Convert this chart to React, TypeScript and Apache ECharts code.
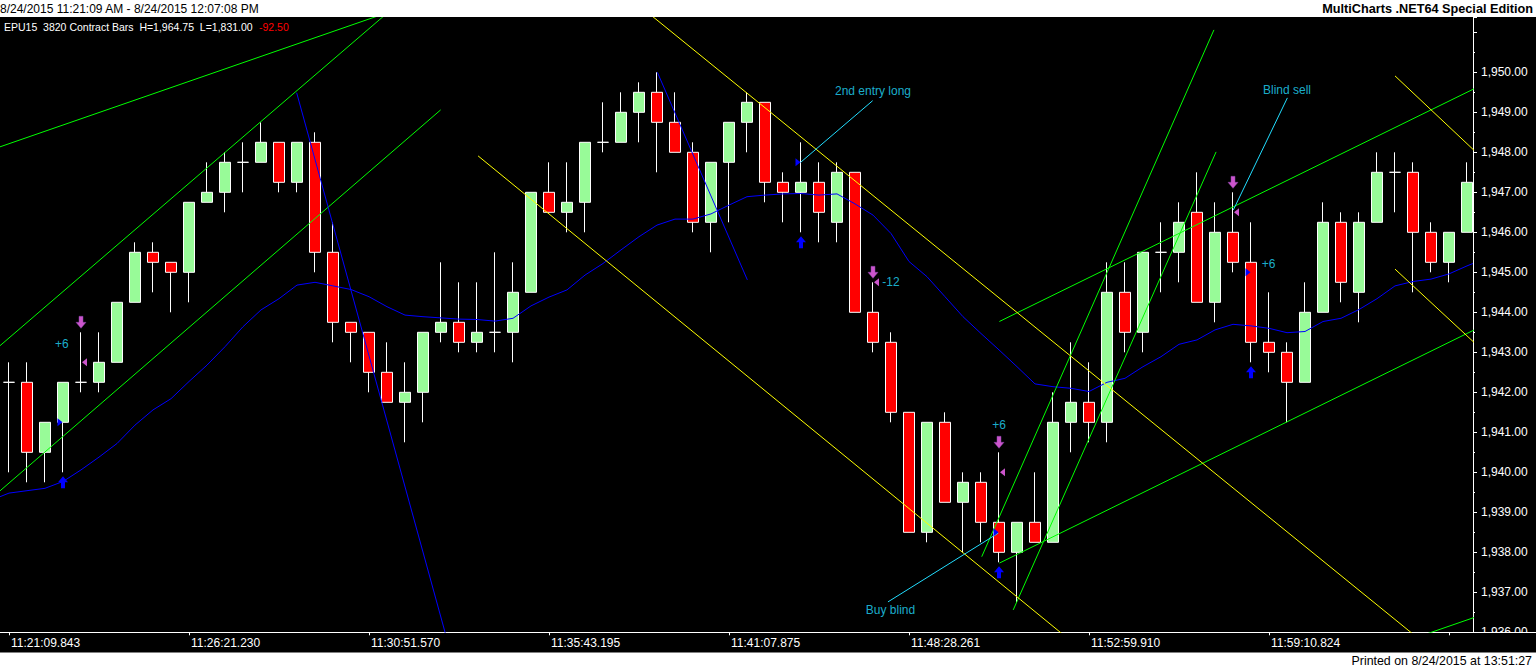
import React, { useEffect, useRef } from 'react';
import * as echarts from 'echarts';

// ---- data ----
const timeLabels = [
  '11:21:09.843', '11:26:21.230', '11:30:51.570', '11:35:43.195',
  '11:41:07.875', '11:48:28.261', '11:52:59.910', '11:59:10.824',
];
const tickBars = [0, 10, 20, 30, 40, 50, 60, 70, 80];
const labelBars = [0, 10, 20, 30, 40, 50, 60, 70];

// [open, high, low, close]
const candles: number[][] = [
  [1942.25, 1942.75, 1940.0, 1942.25],
  [1942.25, 1942.75, 1939.75, 1940.5],
  [1940.5, 1941.25, 1939.75, 1941.25],
  [1941.25, 1942.25, 1940.0, 1942.25],
  [1942.25, 1943.5, 1942.0, 1942.25],
  [1942.25, 1943.5, 1942.0, 1942.75],
  [1942.75, 1944.25, 1942.75, 1944.25],
  [1944.25, 1945.75, 1944.25, 1945.5],
  [1945.5, 1945.75, 1944.5, 1945.25],
  [1945.25, 1945.25, 1944.0, 1945.0],
  [1945.0, 1946.75, 1944.25, 1946.75],
  [1946.75, 1947.75, 1946.75, 1947.0],
  [1947.0, 1948.0, 1946.5, 1947.75],
  [1947.75, 1948.25, 1947.0, 1947.75],
  [1947.75, 1948.75, 1947.75, 1948.25],
  [1948.25, 1948.25, 1947.0, 1947.25],
  [1947.25, 1948.25, 1947.0, 1948.25],
  [1948.25, 1948.5, 1945.0, 1945.5],
  [1945.5, 1946.25, 1943.25, 1943.75],
  [1943.75, 1943.75, 1942.75, 1943.5],
  [1943.5, 1943.5, 1942.0, 1942.5],
  [1942.5, 1943.25, 1941.75, 1941.75],
  [1941.75, 1942.75, 1940.75, 1942.0],
  [1942.0, 1943.5, 1941.25, 1943.5],
  [1943.5, 1945.25, 1943.25, 1943.75],
  [1943.75, 1944.75, 1943.0, 1943.25],
  [1943.25, 1944.75, 1943.0, 1943.5],
  [1943.5, 1945.5, 1943.0, 1943.5],
  [1943.5, 1945.25, 1942.75, 1944.5],
  [1944.5, 1947.0, 1944.5, 1947.0],
  [1947.0, 1947.75, 1946.5, 1946.5],
  [1946.5, 1947.75, 1946.0, 1946.75],
  [1946.75, 1948.25, 1946.0, 1948.25],
  [1948.25, 1949.25, 1948.0, 1948.25],
  [1948.25, 1949.5, 1948.25, 1949.0],
  [1949.0, 1949.75, 1948.25, 1949.5],
  [1949.5, 1950.0, 1947.5, 1948.75],
  [1948.75, 1949.5, 1948.0, 1948.0],
  [1948.0, 1948.25, 1946.0, 1946.25],
  [1946.25, 1947.75, 1945.5, 1947.75],
  [1947.75, 1948.75, 1946.25, 1948.75],
  [1948.75, 1949.5, 1948.0, 1949.25],
  [1949.25, 1949.25, 1946.75, 1947.25],
  [1947.25, 1947.5, 1946.25, 1947.0],
  [1947.0, 1948.25, 1946.0, 1947.25],
  [1947.25, 1947.75, 1945.75, 1946.5],
  [1946.25, 1947.75, 1945.75, 1947.5],
  [1947.5, 1947.5, 1944.0, 1944.0],
  [1944.0, 1944.75, 1943.0, 1943.25],
  [1943.25, 1943.5, 1941.25, 1941.5],
  [1941.5, 1941.5, 1938.5, 1938.5],
  [1938.5, 1941.25, 1938.25, 1941.25],
  [1941.25, 1941.5, 1939.25, 1939.25],
  [1939.25, 1940.0, 1938.0, 1939.75],
  [1939.75, 1940.0, 1938.25, 1938.75],
  [1938.75, 1940.5, 1937.75, 1938.0],
  [1938.0, 1938.75, 1936.75, 1938.75],
  [1938.75, 1940.0, 1938.25, 1938.25],
  [1938.25, 1942.0, 1938.25, 1941.25],
  [1941.25, 1943.25, 1940.5, 1941.75],
  [1941.75, 1942.75, 1940.75, 1941.25],
  [1941.25, 1945.25, 1940.75, 1944.5],
  [1944.5, 1945.25, 1943.0, 1943.5],
  [1943.5, 1945.5, 1943.0, 1945.5],
  [1945.5, 1946.25, 1944.5, 1945.5],
  [1945.5, 1946.75, 1944.75, 1946.25],
  [1946.5, 1947.5, 1944.25, 1944.25],
  [1944.25, 1946.75, 1943.75, 1946.0],
  [1946.0, 1947.0, 1945.0, 1945.25],
  [1945.25, 1946.25, 1942.75, 1943.25],
  [1943.25, 1944.5, 1942.5, 1943.0],
  [1943.0, 1943.25, 1941.25, 1942.25],
  [1942.25, 1944.75, 1942.25, 1944.0],
  [1944.0, 1946.75, 1944.0, 1946.25],
  [1946.25, 1946.5, 1944.25, 1944.75],
  [1944.5, 1946.5, 1943.75, 1946.25],
  [1946.25, 1948.0, 1946.25, 1947.5],
  [1947.5, 1948.0, 1946.5, 1947.5],
  [1947.5, 1947.75, 1944.5, 1946.0],
  [1946.0, 1946.25, 1945.0, 1945.25],
  [1945.25, 1946.0, 1944.75, 1946.0],
  [1946.0, 1947.75, 1946.0, 1947.25],
];

// moving average, one value per bar
const movingAvg = [
  1939.48, 1939.54, 1939.6, 1939.77, 1940.06, 1940.38, 1940.72, 1941.18, 1941.56, 1941.84,
  1942.27, 1942.68, 1943.14, 1943.64, 1944.06, 1944.34, 1944.68, 1944.75, 1944.66, 1944.57,
  1944.39, 1944.14, 1943.93, 1943.89, 1943.86, 1943.83, 1943.82, 1943.78, 1943.85, 1944.16,
  1944.38, 1944.56, 1944.93, 1945.22, 1945.56, 1945.89, 1946.18, 1946.33, 1946.33, 1946.46,
  1946.68, 1946.89, 1946.93, 1946.96, 1946.97, 1946.93, 1946.96, 1946.71, 1946.43, 1945.97,
  1945.27, 1944.89, 1944.39, 1943.89, 1943.47, 1943.06, 1942.64, 1942.21, 1942.14, 1942.1,
  1942.02, 1942.25, 1942.35, 1942.64, 1942.89, 1943.2, 1943.31, 1943.56, 1943.7, 1943.66,
  1943.6, 1943.49, 1943.52, 1943.77, 1943.85, 1944.07, 1944.34, 1944.66, 1944.77, 1944.83,
  1944.96, 1945.16,
];
const maStart = [-0.5, 1939.39];
const maEnd = [81.33, 1945.22];

// trend lines: [[barIndex, price], [barIndex, price]]
const greenLines = [
  [[-1.056, 1948.05], [21.72, 1951.6]],
  [[-1.056, 1942.95], [21.72, 1951.755]],
  [[-1.056, 1939.32], [23.98, 1949.06]],
  [[54.04, 1937.89], [66.94, 1951.06]],
  [[55.79, 1936.56], [67.06, 1948.01]],
  [[55.02, 1943.77], [81.72, 1949.66]],
  [[55.02, 1937.73], [81.72, 1943.63]],
  [[77.28, 1935.73], [81.72, 1936.42]],
];
const yellowLines = [
  [[35.06, 1951.65], [78.67, 1935.71]],
  [[26.06, 1947.91], [59.22, 1935.7]],
  [[77.0, 1949.91], [81.72, 1947.91]],
  [[77.0, 1945.08], [81.72, 1943.11]],
];
const blueLines = [
  [[15.98, 1949.49], [24.39, 1935.73]],
  [[36.02, 1950.0], [41.02, 1944.81]],
];
const cyanLines = [
  [[43.98, 1947.75], [47.98, 1949.29]],
  [[68.02, 1946.56], [71.02, 1949.36]],
  [[48.83, 1936.76], [54.96, 1938.48]],
];

// trade markers [barIndex, price]
const entryArrows = [[3, 1939.75], [44, 1945.75], [55, 1937.5], [69, 1942.5]];
const exitArrows = [[4, 1943.75], [48, 1945.0], [55, 1940.75], [68, 1947.25]];
const entryFlags = [[3, 1941.25], [44, 1947.75], [55, 1938.5], [69, 1945.0]];
const exitFlags = [[4, 1942.75], [48, 1944.75], [55, 1940.0], [68, 1946.5]];

const notes = [
  { x: 2.94, y: 1943.21, text: '+6' },
  { x: 49.0, y: 1944.76, text: '-12' },
  { x: 55.0, y: 1941.18, text: '+6' },
  { x: 69.98, y: 1945.22, text: '+6' },
  { x: 48.0, y: 1949.53, text: '2nd entry long' },
  { x: 71.0, y: 1949.56, text: 'Blind sell' },
  { x: 48.97, y: 1936.56, text: 'Buy blind' },
];

const FONT = '"Liberation Sans", Arial, sans-serif';

function fmtPrice(v: number): string {
  if (Math.abs(v - Math.round(v)) > 1e-6) return '';
  if (v > 1950.5) return '';
  const n = Math.round(v);
  return String(n).replace(/\B(?=(\d{3})+(?!\d))/g, ',') + '.00';
}

function lineSeries(lines: number[][][], color: string) {
  return lines.map((l) => ({
    type: 'line',
    data: l,
    showSymbol: false,
    symbol: 'none',
    silent: true,
    clip: true,
    lineStyle: { color, width: 1 },
    z: 5,
  }));
}

export default function App() {
  const ref = useRef<HTMLDivElement>(null);

  useEffect(() => {
    document.body.style.margin = '0';
    const chart = echarts.init(ref.current as HTMLDivElement, null, { renderer: 'svg' });

    const candleData = candles.map((c, i) => [i, c[0], c[3], c[2], c[1]]);
    const maData = [maStart, ...movingAvg.map((v, i) => [i, v]), maEnd];

    const option: any = {
      animation: false,
      backgroundColor: '#000000',
      grid: { left: 0, right: 63, top: 17, height: 615.3 },
      xAxis: {
        type: 'value',
        min: -0.5,
        max: 81.333,
        splitLine: { show: false },
        axisLine: { show: true, onZero: false, lineStyle: { color: '#ffffff', width: 1 } },
        axisTick: {
          show: true,
          customValues: tickBars,
          length: 3,
          lineStyle: { color: '#ffffff' },
        },
        axisLabel: {
          show: true,
          customValues: labelBars,
          formatter: (v: number) => timeLabels[Math.round(v / 10)] ?? '',
          color: '#ffffff',
          fontFamily: FONT,
          fontSize: 12,
          align: 'left',
          padding: [0, 0, 0, 2],
          margin: 5,
        },
      },
      yAxis: {
        type: 'value',
        position: 'right',
        min: 1936,
        max: 1951.3825,
        interval: 1,
        scale: true,
        splitLine: { show: false },
        axisLine: { show: true, onZero: false, lineStyle: { color: '#ffffff', width: 1 } },
        axisTick: { show: true, length: 4, lineStyle: { color: '#ffffff' } },
        minorTick: { show: true, splitNumber: 2, length: 2, lineStyle: { color: '#ffffff' } },
        axisLabel: {
          show: true,
          showMaxLabel: false,
          formatter: fmtPrice,
          color: '#ffffff',
          fontFamily: FONT,
          fontSize: 12,
          margin: 8,
        },
      },
      series: [
        {
          type: 'candlestick',
          data: candleData,
          encode: { x: 0, y: [1, 2, 3, 4] },
          barWidth: 12,
          silent: true,
          itemStyle: {
            color: '#98FB98',
            color0: '#FF0000',
            borderColor: '#FFFFFF',
            borderColor0: '#FFFFFF',
            borderColorDoji: '#FFFFFF',
            borderWidth: 1,
          },
          z: 2,
        },
        {
          type: 'line',
          data: maData,
          showSymbol: false,
          symbol: 'none',
          silent: true,
          lineStyle: { color: '#0000FF', width: 1 },
          z: 4,
        },
        ...lineSeries(greenLines, '#00FF00'),
        ...lineSeries(yellowLines, '#FFFF00'),
        ...lineSeries(blueLines, '#0000FF'),
        ...lineSeries(cyanLines, '#22DDFF'),
        {
          type: 'scatter',
          data: entryArrows,
          symbol: 'path://M5,0 L10,6 L7,6 L7,12 L3,12 L3,6 L0,6 Z',
          symbolSize: [10, 12],
          itemStyle: { color: '#0000FF', opacity: 1 },
          silent: true,
          z: 8,
        },
        {
          type: 'scatter',
          data: exitArrows,
          symbol: 'path://M3,0 L7,0 L7,6 L10,6 L5,12 L0,6 L3,6 Z',
          symbolSize: [10, 12],
          itemStyle: { color: '#CC55CC', borderColor: '#8844AA', borderWidth: 0.5, opacity: 1 },
          silent: true,
          z: 8,
        },
        {
          type: 'scatter',
          data: entryFlags,
          symbol: 'path://M0,0 L6,4 L0,8 Z',
          symbolSize: [5, 8],
          symbolOffset: [-3, 0],
          itemStyle: { color: '#0000FF', opacity: 1 },
          silent: true,
          z: 8,
        },
        {
          type: 'scatter',
          data: exitFlags,
          symbol: 'path://M6,0 L0,4 L6,8 Z',
          symbolSize: [5, 8],
          symbolOffset: [3.5, 0],
          itemStyle: { color: '#CC55CC', opacity: 1 },
          silent: true,
          z: 8,
        },
        {
          type: 'scatter',
          data: notes.map((n) => ({ value: [n.x, n.y], name: n.text })),
          symbolSize: 1,
          itemStyle: { color: 'rgba(0,0,0,0)' },
          silent: true,
          clip: false,
          label: {
            show: true,
            position: 'inside',
            formatter: (p: any) => p.name,
            color: '#22DDFF',
            fontFamily: FONT,
            fontSize: 12,
          },
          z: 9,
        },
      ],
      graphic: [
        { type: 'rect', shape: { x: 0, y: 0, width: 1536, height: 17 }, style: { fill: '#ffffff' }, z: 100, silent: true },
        {
          type: 'text', x: 0, y: 9,
          style: { text: '8/24/2015 11:21:09 AM - 8/24/2015 12:07:08 PM', font: `12px ${FONT}`, fill: '#000000', verticalAlign: 'middle', align: 'left' },
          z: 101, silent: true,
        },
        {
          type: 'text', x: 1533, y: 9,
          style: { text: 'MultiCharts .NET64 Special Edition', font: `bold 12.7px ${FONT}`, fill: '#000000', verticalAlign: 'middle', align: 'right' },
          z: 101, silent: true,
        },
        {
          type: 'text', x: 4, y: 27,
          style: { text: 'EPU15  3820 Contract Bars  H=1,964.75  L=1,831.00', font: `10.5px ${FONT}`, fill: '#ffffff', verticalAlign: 'middle', align: 'left' },
          z: 101, silent: true,
        },
        {
          type: 'text', x: 259, y: 27,
          style: { text: '-92.50', font: `10.5px ${FONT}`, fill: '#ff0000', verticalAlign: 'middle', align: 'left' },
          z: 101, silent: true,
        },
        { type: 'rect', shape: { x: 1473.6, y: 633, width: 63, height: 20 }, style: { fill: '#000000' }, z: 100, silent: true },
        { type: 'line', shape: { x1: 1473, y1: 632.5, x2: 1536, y2: 632.5 }, style: { stroke: '#ffffff', lineWidth: 1 }, z: 101, silent: true },
        { type: 'rect', shape: { x: 0, y: 652.5, width: 1536, height: 16 }, style: { fill: '#ffffff' }, z: 100, silent: true },
        {
          type: 'text', x: 1532, y: 660.5,
          style: { text: 'Printed on 8/24/2015 at 13:51:27', font: `12.4px ${FONT}`, fill: '#000000', verticalAlign: 'middle', align: 'right' },
          z: 101, silent: true,
        },
      ],
    };

    chart.setOption(option);
    return () => chart.dispose();
  }, []);

  return <div ref={ref} style={{ width: 1536, height: 668 }} />;
}
